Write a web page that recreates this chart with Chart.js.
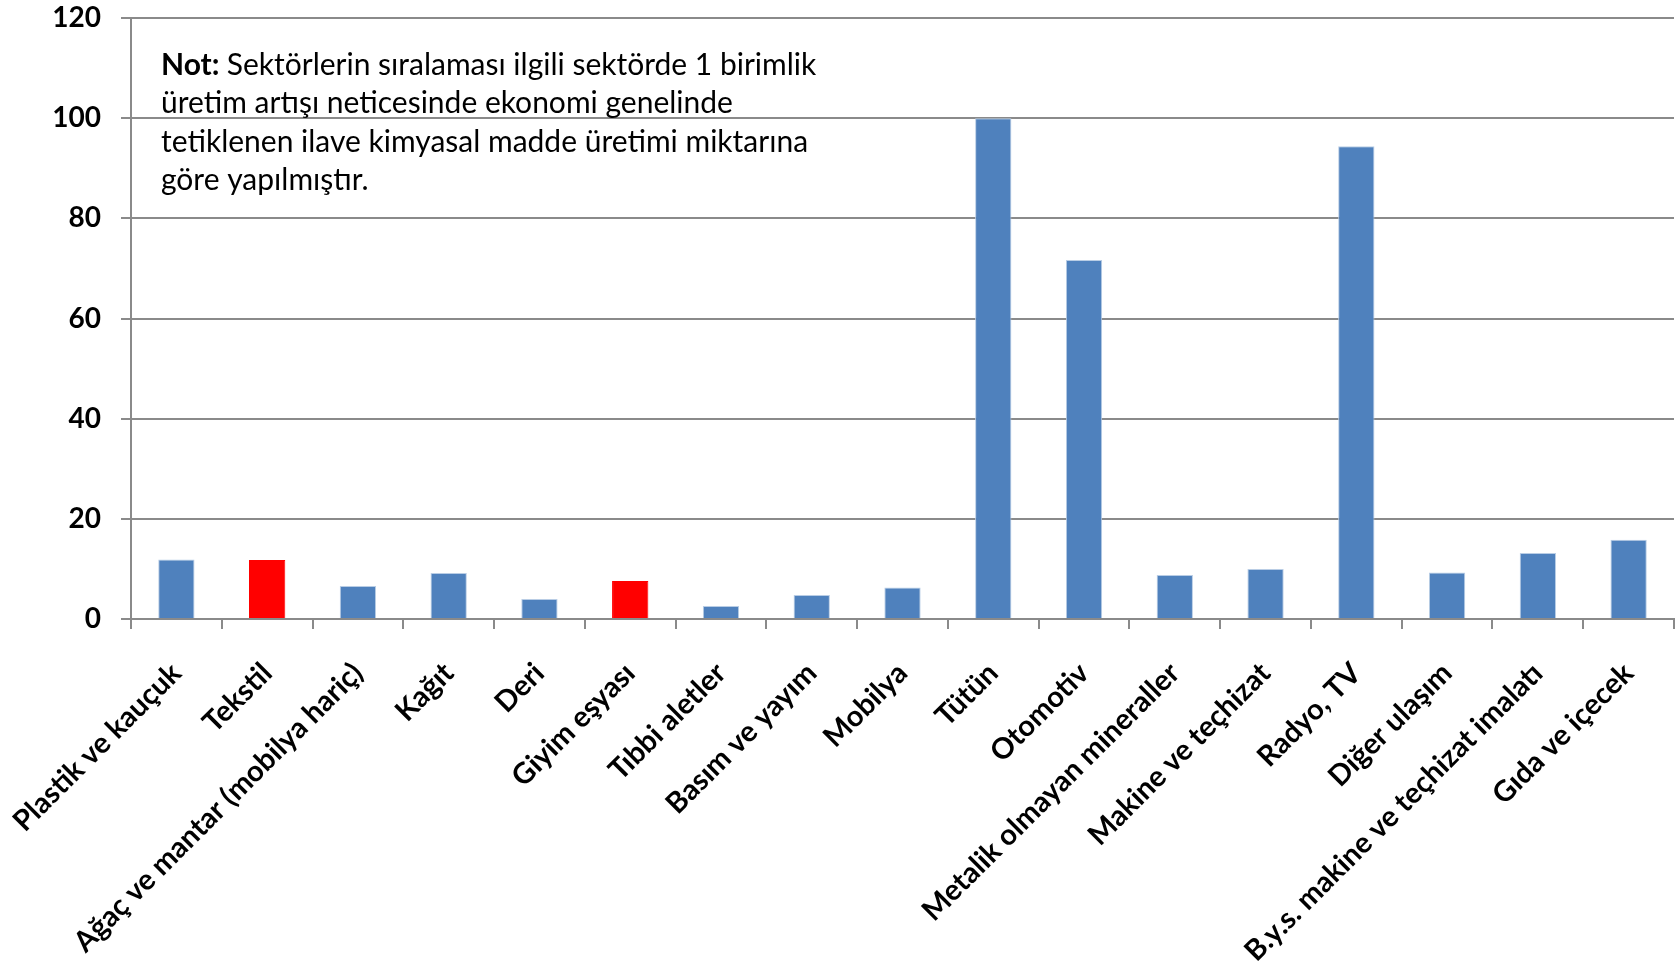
<!DOCTYPE html>
<html>
<head>
<meta charset="utf-8">
<script src="https://cdn.jsdelivr.net/npm/chart.js@4"></script>
<style>
  body { margin: 0; background: #fff; }
  #wrap { width: 1676px; height: 969px; }
</style>
</head>
<body>
<div id="wrap"><canvas id="myChart"></canvas></div>
<script>
const sektorler = ['Plastik ve kauçuk', 'Tekstil', 'Ağaç ve mantar (mobilya hariç)', 'Kağıt', 'Deri',
  'Giyim eşyası', 'Tıbbi aletler', 'Basım ve yayım', 'Mobilya', 'Tütün', 'Otomotiv',
  'Metalik olmayan mineraller', 'Makine ve teçhizat', 'Radyo, TV', 'Diğer ulaşım',
  'B.y.s. makine ve teçhizat imalatı', 'Gıda ve içecek'];
const degerler = [11.9, 11.8, 6.6, 9.2, 4.0, 7.6, 2.6, 4.8, 6.3, 100, 71.7, 8.8, 10.0, 94.4, 9.3, 13.2, 15.8];
// kırmızı gösterilen sektörler
const vurgulu = ['Tekstil', 'Giyim eşyası'];
const yTicks = [0, 20, 40, 60, 80, 100, 120];

const notSatirlari = [
  'Sektörlerin sıralaması ilgili sektörde 1 birimlik',
  'üretim artışı neticesinde ekonomi genelinde',
  'tetiklenen ilave kimyasal madde üretimi miktarına',
  'göre yapılmıştır.'
];

const gri = '#8a8a8a';
const yazi = 'Lato, "Open Sans", sans-serif';

const notPlugin = {
  id: 'not',
  afterDraw(chart) {
    const c = chart.ctx;
    c.save();
    c.fillStyle = '#000';
    c.textBaseline = 'alphabetic';
    let x = 161, y = 75;
    c.font = 'bold 30px ' + yazi;
    c.fillText('Not:', x, y);
    const w = c.measureText('Not: ').width;
    c.font = '30px ' + yazi;
    c.fillText(notSatirlari[0], x + w, y);
    for (let i = 1; i < notSatirlari.length; i++) {
      c.fillText(notSatirlari[i], x, y + i * 38.3);
    }
    c.restore();
  }
};

const ctx = document.getElementById('myChart');

new Chart(ctx, {
  type: 'bar',
  data: {
    labels: sektorler,
    datasets: [{
      data: degerler,
      backgroundColor: sektorler.map(s => vurgulu.includes(s) ? '#ff0000' : '#4f81bd'),
      borderColor: sektorler.map(s => vurgulu.includes(s) ? '#ff0000' : '#b9cde5'),
      borderWidth: 1,
      barPercentage: 0.4,
      categoryPercentage: 1
    }]
  },
  options: {
    responsive: true,
    maintainAspectRatio: false,
    animation: false,
    layout: { padding: { top: 18, right: 2, left: 0, bottom: 0 } },
    plugins: { legend: { display: false }, tooltip: { enabled: false } },
    scales: {
      x: {
        grid: { offset: true, drawOnChartArea: false, color: gri, lineWidth: 2, tickLength: 10 },
        border: { color: gri, width: 2 },
        ticks: {
          autoSkip: false, maxRotation: 45, minRotation: 45,
          color: '#000', font: { family: yazi, size: 29, weight: 'bold' }, padding: 27
        },
        afterFit(scale) {
          scale.height = 350;
          scale.paddingLeft = 0;
          scale.paddingRight = 0;
        }
      },
      y: {
        min: 0, max: 120,
        afterBuildTicks(scale) { scale.ticks = yTicks.map(v => ({ value: v })); },
        grid: { color: gri, lineWidth: 2, tickLength: 10 },
        border: { color: gri, width: 2 },
        ticks: { color: '#000', font: { family: yazi, size: 28, weight: 'bold' }, padding: 20 },
        afterFit(scale) {
          scale.width = 131;
          scale.paddingTop = 0;
          scale.paddingBottom = 0;
        }
      }
    }
  },
  plugins: [notPlugin]
});
</script>
</body>
</html>
